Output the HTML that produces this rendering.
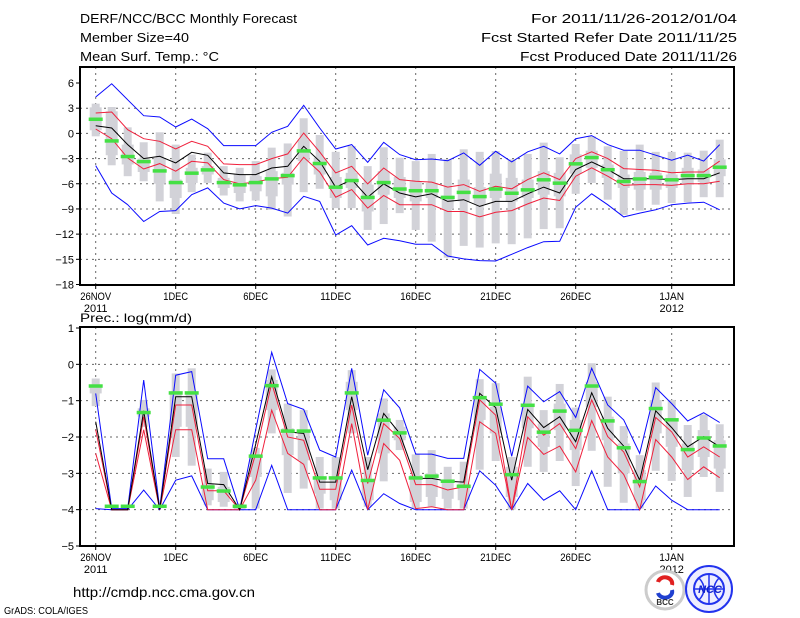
<!DOCTYPE html>
<html><head><meta charset="utf-8"><style>
html,body{margin:0;padding:0;background:#fff;}
svg{display:block;font-family:"Liberation Sans",sans-serif;}
</style></head><body>
<svg id="chart" width="800" height="618" viewBox="0 0 800 618" xmlns="http://www.w3.org/2000/svg">
<g font-size="13" fill="#000">
<text x="80" y="23" textLength="217" lengthAdjust="spacingAndGlyphs">DERF/NCC/BCC Monthly Forecast</text>
<text x="80" y="42" textLength="109" lengthAdjust="spacingAndGlyphs">Member Size=40</text>
<text x="80" y="61" textLength="139" lengthAdjust="spacingAndGlyphs">Mean Surf. Temp.: °C</text>
<text x="531" y="23" textLength="206" lengthAdjust="spacingAndGlyphs">For 2011/11/26-2012/01/04</text>
<text x="481" y="42" textLength="256" lengthAdjust="spacingAndGlyphs">Fcst Started Refer Date 2011/11/25</text>
<text x="520" y="61" textLength="217" lengthAdjust="spacingAndGlyphs">Fcst Produced Date 2011/11/26</text>
</g>
<text x="80" y="322" font-size="12" textLength="112" lengthAdjust="spacingAndGlyphs">Prec.: log(mm/d)</text>
<g id="top"></g>
<g id="bot"></g>
<text x="73" y="597" font-size="14" textLength="182" lengthAdjust="spacingAndGlyphs">http://cmdp.ncc.cma.gov.cn</text>
<text x="4" y="614" font-size="10" textLength="84" lengthAdjust="spacingAndGlyphs">GrADS: COLA/IGES</text>
<g>
<circle cx="665" cy="590" r="19" fill="#fff" stroke="#ccc" stroke-width="3"/>
<path d="M658 582 a7 6 0 0 1 14 3" fill="none" stroke="#e02020" stroke-width="4"/>
<path d="M672 590 a7 6 0 0 1 -14 3" fill="none" stroke="#2040d0" stroke-width="4"/>
<text x="665" y="605" font-size="8" font-weight="bold" text-anchor="middle" fill="#333">BCC</text>
</g>
<g>
<circle cx="709" cy="589" r="23" fill="#eef" stroke="#2233ee" stroke-width="2"/>
<circle cx="709" cy="589" r="15" fill="none" stroke="#2233ee" stroke-width="2"/>
<path d="M694 589 h30 M709 574 v30 M699 578 q10 11 0 22 M719 578 q-10 11 0 22" stroke="#2233ee" fill="none" stroke-width="1.5"/>
<text x="710" y="593" font-size="11" font-weight="bold" font-style="italic" text-anchor="middle" fill="#1122cc">NCC</text>
</g>
</svg>
<script>
const days = [0,1,2,3,4,5,6,7,8,9,10,11,12,13,14,15,16,17,18,19,20,21,22,23,24,25,26,27,28,29,30,31,32,33,34,35,36,37,38,39];
const dateTickDays = [0,5,10,15,20,25,30,36];
const dateTickLabels = ["26NOV","1DEC","6DEC","11DEC","16DEC","21DEC","26DEC","1JAN"];
const yearLabels = ["2011","","","","","","","2012"];
const tTicks = [6,3,0,-3,-6,-9,-12,-15,-18];
const pTicks = [1,0,-1,-2,-3,-4,-5];

const tBlueHi = [4.33,5.9,4.0,2.1,1.95,0.76,1.7,0.56,-1.46,-1.46,-1.46,0.13,0.84,3.34,0.64,-1.86,-1.34,-3.44,-1.06,-2.53,-3.13,-3.05,-3.25,-2.33,-3.8,-2.13,-3.4,-2.2,-1.54,-2.45,-0.63,-0.27,-1.34,-2.0,-2.0,-2.6,-3.2,-2.6,-3.3,-1.34];
const tBlueLo = [-3.84,-7.1,-8.5,-10.5,-9.3,-9.2,-7.3,-6.5,-8.3,-9.0,-8.6,-8.9,-9.5,-7.5,-8.1,-12.1,-11.0,-13.3,-12.5,-12.8,-13.2,-13.2,-14.6,-14.95,-15.15,-15.2,-14.4,-13.6,-12.9,-12.85,-8.8,-7.2,-8.5,-9.95,-9.5,-9.1,-8.5,-8.3,-8.2,-9.1];
const tRedHi = [2.43,2.55,0.44,-0.63,-0.94,-1.86,-0.94,-1.54,-3.64,-3.72,-3.72,-3.0,-2.45,0.05,-2.21,-4.71,-3.92,-6.02,-4.12,-5.5,-5.7,-5.8,-6.4,-6.1,-6.9,-6.3,-6.6,-5.5,-4.7,-5.5,-3.0,-2.2,-3.0,-4.2,-4.3,-4.4,-4.7,-4.6,-4.6,-3.3];
const tRedLo = [0.52,-0.63,-2.93,-4.24,-3.6,-4.5,-3.33,-3.52,-5.5,-6.02,-5.79,-5.39,-5.23,-2.85,-4.6,-7.6,-6.7,-8.9,-7.4,-8.5,-8.5,-8.5,-9.3,-9.3,-9.95,-9.4,-9.2,-8.4,-7.7,-8.0,-5.1,-4.1,-5.1,-6.2,-6.1,-6.1,-6.2,-6.0,-6.0,-5.7];
const tMean = [0.92,0.64,-1.34,-3.0,-2.73,-3.52,-2.25,-2.61,-4.71,-4.91,-4.91,-4.12,-3.92,-1.54,-3.33,-6.42,-5.5,-7.6,-6.02,-7.1,-7.57,-7.2,-8.1,-7.9,-8.7,-8.1,-8.1,-7.2,-6.4,-7.1,-4.3,-3.4,-4.3,-5.4,-5.4,-5.4,-5.5,-5.4,-5.4,-4.7];
const tObs = [1.71,-0.87,-2.73,-3.33,-4.44,-5.83,-4.71,-4.32,-5.83,-6.1,-5.83,-5.39,-5.0,-2.06,-3.56,-6.38,-5.59,-7.6,-5.83,-6.6,-6.8,-6.8,-7.6,-7.0,-7.5,-6.6,-7.1,-6.7,-5.5,-5.9,-3.6,-2.85,-4.3,-5.7,-5.4,-5.2,-5.5,-5.0,-5.0,-4.0];
const tWMax = [3.54,3.14,0.72,-1.06,0.13,-1.34,-2.53,-2.3,-3.9,-4.1,-3.3,-1.7,-1.2,1.8,-0.2,-2.2,-1.5,-3.9,-1.66,-2.9,-3.3,-2.45,-3.1,-1.9,-2.2,-2.1,-3.1,-2.45,-1.1,-2.85,-1.26,-0.35,-1.54,-2.1,-1.34,-2.2,-2.2,-2.3,-2.06,-0.75];
const tWMin = [-0.35,-3.8,-5.1,-5.7,-8.1,-9.6,-7.0,-5.9,-7.4,-8.1,-8.0,-9.1,-9.9,-7.0,-6.6,-8.9,-8.9,-11.5,-10.8,-9.5,-11.5,-12.9,-14.8,-13.4,-13.6,-13.1,-13.2,-12.5,-11.4,-11.3,-7.2,-5.9,-7.9,-9.7,-9.2,-8.5,-8.3,-8.2,-7.6,-7.6];
const tBHi = [3.1,2.63,-1.34,-3.0,-2.93,-5.5,-4.1,-3.9,-5.3,-4.9,-5.1,-4.5,-4.7,-0.75,-2.9,-5.2,-4.7,-6.1,-4.5,-5.2,-5.7,-5.9,-7.4,-5.5,-6.4,-4.8,-5.3,-5.5,-4.5,-4.7,-2.5,-2.06,-3.7,-4.9,-4.6,-4.7,-4.9,-4.1,-4.3,-3.1];
const tBLo = [0.37,-2.6,-3.7,-4.6,-6.0,-7.7,-5.9,-4.9,-6.5,-7.1,-6.9,-7.5,-6.1,-3.3,-4.9,-7.7,-6.5,-9.3,-7.3,-7.7,-8.1,-7.7,-9.0,-8.1,-8.4,-7.7,-8.1,-7.7,-7.3,-7.5,-4.8,-4.1,-5.3,-6.5,-6.7,-6.7,-6.5,-6.1,-5.8,-5.1];

const pBlueHi = [-0.8,-3.97,-3.97,-0.43,-3.97,-0.3,-0.2,-2.6,-2.6,-4.0,-1.8,0.33,-1.08,-1.24,-2.36,-2.55,-0.11,-2.5,-0.7,-1.2,-2.47,-2.47,-2.59,-2.59,-0.14,-0.52,-2.53,-0.6,-1.03,-0.75,-1.46,-0.11,-1.12,-1.53,-2.45,-0.64,-1.08,-1.56,-1.33,-1.6];
const pBlueLo = [-3.97,-4,-4,-3.46,-4,-3.19,-3.07,-4,-4,-4,-4,-2.78,-4,-4,-4,-4,-2.91,-4,-3.56,-3.83,-4,-4,-4,-4,-2.93,-3.33,-4,-3.28,-3.74,-3.48,-4,-2.93,-4,-4,-4,-3.35,-3.74,-4,-4,-4];
const pMean = [-1.58,-4,-4,-1.28,-4,-0.89,-0.89,-3.28,-3.31,-4,-2.2,-0.34,-1.86,-1.9,-3.24,-3.24,-0.89,-2.9,-1.35,-1.9,-3.14,-3.14,-3.22,-3.24,-0.8,-1.19,-3.19,-1.24,-1.74,-1.44,-2.13,-0.78,-1.76,-2.25,-3.19,-1.28,-1.74,-2.27,-1.99,-2.27];
const pRedHi = [-1.8,-4,-4,-1.44,-4,-1.12,-1.12,-3.48,-3.48,-4,-2.45,-0.52,-2.0,-2.09,-3.44,-3.44,-1.12,-3.28,-1.63,-2.04,-3.31,-3.31,-3.46,-3.37,-0.98,-1.4,-4,-1.44,-1.95,-1.63,-2.32,-0.98,-1.99,-2.41,-3.37,-1.46,-1.86,-2.55,-2.27,-2.55];
const pRedLo = [-2.45,-4,-4,-1.8,-4,-1.8,-1.8,-4,-4,-4,-3.19,-1.26,-2.45,-2.75,-4,-4,-1.63,-4,-2.18,-2.64,-3.97,-3.92,-4,-4,-1.58,-1.9,-4,-2.01,-2.48,-2.25,-2.96,-1.55,-2.55,-3.03,-4,-2.07,-2.55,-3.17,-2.82,-3.12];
const pObs = [-0.59,-3.9,-3.9,-1.32,-3.9,-0.78,-0.78,-3.37,-3.48,-3.9,-2.52,-0.58,-1.83,-1.83,-3.12,-3.12,-0.78,-3.19,-1.53,-1.88,-3.12,-3.07,-3.21,-3.35,-0.91,-1.09,-3.03,-1.12,-1.86,-1.28,-1.81,-0.59,-1.55,-2.29,-3.22,-1.21,-1.52,-2.34,-2.02,-2.24];
const pWMax = [-0.39,-4,-4,-0.98,-4,-0.25,-0.11,-2.87,-2.96,-3.83,-2.3,-0.14,-1.08,-1.26,-2.55,-2.55,-0.16,-2.55,-0.94,-1.53,-2.48,-2.36,-2.82,-2.68,-0.41,-0.52,-2.55,-0.34,-1.26,-0.54,-1.19,0.03,-0.89,-1.7,-2.5,-0.5,-0.98,-1.67,-1.38,-1.65];
const pWMin = [-1.15,-4,-4,-1.72,-4,-2.55,-2.79,-3.88,-3.92,-4,-3.97,-1.9,-3.54,-3.42,-3.97,-3.97,-1.9,-3.92,-3.22,-2.36,-3.97,-3.92,-3.97,-3.97,-2.9,-2.66,-4,-2.82,-2.96,-2.66,-3.35,-2.38,-3.37,-3.81,-3.97,-2.93,-3.21,-3.65,-3.1,-3.51];
const pBHi = [-0.6,-4,-4,-1.21,-4,-0.75,-0.75,-3.28,-3.37,-3.9,-2.55,-0.43,-1.76,-1.81,-3.1,-3.1,-0.48,-3.19,-1.35,-1.72,-3.05,-3.0,-3.19,-3.28,-0.89,-1.17,-2.82,-1.08,-1.63,-1.08,-1.53,-0.48,-1.44,-2.18,-2.91,-0.98,-1.52,-2.18,-1.81,-2.09];
const pBLo = [-0.8,-4,-4,-1.44,-4,-1.72,-1.72,-3.74,-3.79,-4,-3.1,-1.26,-2.5,-2.64,-3.56,-3.74,-1.26,-3.74,-2.45,-2.09,-3.79,-3.65,-3.7,-3.74,-1.53,-1.9,-3.65,-1.76,-2.27,-1.81,-2.36,-1.17,-2.09,-3.0,-3.74,-1.9,-2.27,-2.91,-2.55,-2.87];

const NS = "http://www.w3.org/2000/svg";
const X0 = 80, X1 = 734;
function xDay(d){ return 95.7 + 16*d; }
function mk(parent, tag, attrs){
  const e = document.createElementNS(NS, tag);
  for (const k in attrs) e.setAttribute(k, attrs[k]);
  parent.appendChild(e); return e;
}

function drawPanel(g, cfg){
  const y = v => cfg.pTop + (cfg.vTop - v) * (cfg.pBot - cfg.pTop) / (cfg.vTop - cfg.vBot);
  cfg.ticks.forEach((t,i) => {
    const yy = y(t);
    if (i>0 && i<cfg.ticks.length-1) {
      const gl = mk(g,'line',{x1:X0,x2:X1,y1:yy,y2:yy,stroke:'#666','stroke-width':1,'stroke-dasharray':'2,4'});
      
      
    }
    const tk = mk(g,'line',{x1:X0-4,x2:X0,y1:yy,y2:yy,stroke:'#000','stroke-width':1});
    
    
    const tl = mk(g,'text',{x:X0-6,y:yy+4,'font-size':11,'text-anchor':'end'});
    tl.textContent = String(t).replace('-','\u2212');
    
    
  });
  dateTickDays.forEach((d,i) => {
    const xx = xDay(d);
    const gl = mk(g,'line',{x1:xx,x2:xx,y1:cfg.frameTop,y2:cfg.frameBot,stroke:'#666','stroke-width':1,'stroke-dasharray':'2,4'});
    
    
    const tk = mk(g,'line',{x1:xx,x2:xx,y1:cfg.frameBot,y2:cfg.frameBot+4,stroke:'#000'});
    
    
    const tl = mk(g,'text',{x:xx,y:cfg.frameBot+15,'font-size':11,'text-anchor':'middle',textLength:dateTickLabels[i].length*6.2,lengthAdjust:'spacingAndGlyphs'});
    tl.textContent = dateTickLabels[i];
    
    
    if (yearLabels[i]) {
      const yl = mk(g,'text',{x:xx,y:cfg.frameBot+27,'font-size':11,'text-anchor':'middle'});
      yl.textContent = yearLabels[i];
      
      
    }
  });
  days.forEach((d,i) => {
    const xx = xDay(d);
    const w1 = mk(g,'rect',{x:xx-4,y:y(cfg.wmax[i]),width:8,height:Math.max(0,y(cfg.wmin[i])-y(cfg.wmax[i])),fill:'#d2d2d8'});
    
    
    const b1 = mk(g,'rect',{x:xx-6,y:y(cfg.bhi[i]),width:12,height:Math.max(0,y(cfg.blo[i])-y(cfg.bhi[i])),fill:'#d2d2d8'});
    
    
  });
  const series = [[cfg.blueHi,'#0a0aff','blue-max-line'],[cfg.blueLo,'#0a0aff','blue-min-line'],[cfg.redHi,'#f0203c','red-upper-line'],[cfg.redLo,'#f0203c','red-lower-line'],[cfg.mean,'#000','ensemble-mean-line']];
  series.forEach(s => {
    const pts = days.map((d,i)=> xDay(d).toFixed(1)+','+y(s[0][i]).toFixed(1)).join(' ');
    const pl = mk(g,'polyline',{points:pts,fill:'none',stroke:s[1],'stroke-width':1});
    
    
  });
  days.forEach((d,i) => {
    const ob = mk(g,'rect',{x:xDay(d)-7,y:y(cfg.obs[i])-1.5,width:14,height:3.5,fill:'#44e044'});
    
    
  });
  const fr = mk(g,'rect',{x:X0,y:cfg.frameTop,width:X1-X0,height:cfg.frameBot-cfg.frameTop,fill:'none',stroke:'#000','stroke-width':2});
  
  
}

drawPanel(document.getElementById('top'), {frameTop:67,frameBot:285,pTop:83,pBot:284.5,vTop:6,vBot:-18,ticks:tTicks,
  blueHi:tBlueHi,blueLo:tBlueLo,redHi:tRedHi,redLo:tRedLo,mean:tMean,obs:tObs,wmax:tWMax,wmin:tWMin,bhi:tBHi,blo:tBLo});
drawPanel(document.getElementById('bot'), {frameTop:327,frameBot:546,pTop:328,pBot:546,vTop:1,vBot:-5,ticks:pTicks,
  blueHi:pBlueHi,blueLo:pBlueLo,redHi:pRedHi,redLo:pRedLo,mean:pMean,obs:pObs,wmax:pWMax,wmin:pWMin,bhi:pBHi,blo:pBLo});
</script>
</body></html>
